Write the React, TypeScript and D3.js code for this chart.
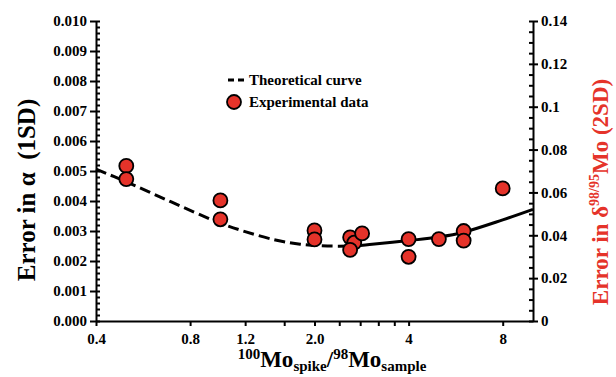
import { useRef, useEffect } from "react";
import * as d3 from "d3";

// theoretical curve
const curveX = [0.4, 0.5, 0.64, 0.82, 1.0, 1.2, 1.5, 1.8, 2.2, 2.7, 3.0, 4, 5, 6, 8, 10];
const curveY = [0.00506, 0.00464, 0.00414, 0.00364, 0.00326, 0.00298, 0.0027, 0.00256, 0.0025, 0.0025, 0.00255, 0.00268, 0.0028, 0.00296, 0.00337, 0.00372];
const dashEnd = 2.7;

// experimental data
const expX = [0.5, 0.5, 1.0, 1.0, 2.0, 2.0, 2.6, 2.68, 2.6, 2.84, 4, 4, 5, 6, 6, 8];
const expY = [0.00517, 0.00473, 0.00402, 0.00339, 0.00302, 0.00272, 0.00279, 0.00261, 0.00237, 0.00292, 0.00273, 0.00214, 0.00273, 0.003, 0.00268, 0.00442];

const xTicks = [0.4, 0.8, 1.2, 1.6, 2.0, 2.4, 2.8, 3.2, 3.6, 4, 8];
const xTickLabels = ["0.4", "0.8", "1.2", "", "2.0", "", "", "", "", "4", "8"];

const margin = { top: 21, right: 83, bottom: 56, left: 96 };
const W = 616, H = 377;
const WIDTH = W - margin.left - margin.right;
const HEIGHT = H - margin.top - margin.bottom;
const RED = "#e5332a";
const FONT = "'Liberation Serif', 'Times New Roman', serif";

export default function App() {
  const ref = useRef<SVGSVGElement>(null);

  useEffect(() => {
    const svg = d3.select(ref.current);
    const g = svg.select(".chart");

    const x = d3.scaleLog().domain([0.4, 10]).range([0, WIDTH]);
    const y = d3.scaleLinear().domain([0, 0.01]).range([HEIGHT, 0]);
    const y2 = d3.scaleLinear().domain([0, 0.14]).range([HEIGHT, 0]);

    const style = (sel: any) => {
      sel.selectAll("path").attr("stroke", "#000").attr("stroke-width", 2);
      sel.selectAll("line").attr("stroke", "#000").attr("stroke-width", 2);
      sel.selectAll("text").attr("font-family", FONT).attr("font-weight", "bold")
        .attr("font-size", 15).attr("fill", "#000");
    };

    // x-axis
    g.select(".x-axis")
      .attr("transform", `translate(0,${HEIGHT})`)
      .call(d3.axisBottom(x).tickValues(xTicks).tickSize(5).tickSizeOuter(0)
        .tickFormat((_d: any, i: number) => xTickLabels[i]) as any)
      .call(style)
      .call((s: any) => s.selectAll("text").attr("dy", "1.0em"));

    // left axis
    g.select(".y-minor")
      .call(d3.axisLeft(y).ticks(50).tickSize(-4).tickFormat(() => "") as any)
      .call(style)
      .call((s: any) => s.select(".domain").remove());
    g.select(".y-axis")
      .call(d3.axisLeft(y).ticks(10).tickSize(6).tickSizeOuter(0).tickFormat(d3.format(".3f")) as any)
      .call(style);

    // right axis
    g.select(".y2-minor")
      .attr("transform", `translate(${WIDTH},0)`)
      .call(d3.axisRight(y2).tickValues(d3.range(0, 0.1401, 0.005)).tickSize(-4).tickFormat(() => "") as any)
      .call(style)
      .call((s: any) => s.select(".domain").remove());
    g.select(".y2-axis")
      .attr("transform", `translate(${WIDTH},0)`)
      .call(d3.axisRight(y2).tickValues(d3.range(0, 0.1401, 0.02)).tickSize(5).tickSizeOuter(0)
        .tickFormat((d: any) => (d === 0 ? "0" : String(+(+d).toFixed(2)))) as any)
      .call(style);

    // theoretical curve
    const pts = curveX.map((v, i) => [v, curveY[i]] as [number, number]);
    const line = d3.line<[number, number]>()
      .x((d) => x(d[0]))
      .y((d) => y(d[1]))
      .curve(d3.curveCatmullRom);
    g.select(".curve-dash")
      .datum(pts.filter((d) => d[0] <= dashEnd))
      .attr("d", line as any)
      .attr("fill", "none").attr("stroke", "#000").attr("stroke-width", 3)
      .attr("stroke-dasharray", "11,5");
    g.select(".curve-solid")
      .datum(pts.filter((d) => d[0] >= dashEnd))
      .attr("d", line as any)
      .attr("fill", "none").attr("stroke", "#000").attr("stroke-width", 3);

    // experimental points
    g.select(".points")
      .selectAll("circle")
      .data(expX.map((v, i) => [v, expY[i]]))
      .join("circle")
      .attr("cx", (d) => x(d[0]))
      .attr("cy", (d) => y(d[1]))
      .attr("r", 7)
      .attr("fill", RED)
      .attr("stroke", "#000")
      .attr("stroke-width", 1.8);
  }, []);

  return (
    <svg ref={ref} width={W} height={H} style={{ position: "absolute", left: 0, top: 0, background: "#fff" }}>
      <g className="chart" transform={`translate(${margin.left},${margin.top})`}>
        <g className="y-minor" />
        <g className="y2-minor" />
        <g className="x-axis" />
        <g className="y-axis" />
        <g className="y2-axis" />
        <path className="curve-dash" />
        <path className="curve-solid" />
        <g className="points" />
      </g>

      {/* legend */}
      <g fontFamily={FONT} fontWeight="bold" fontSize={15}>
        <line x1={228} x2={245} y1={80} y2={80} stroke="#000" strokeWidth={3} strokeDasharray="6,4" />
        <text x={249} y={85}>Theoretical curve</text>
        <circle cx={234} cy={102} r={7} fill={RED} stroke="#000" strokeWidth={1.8} />
        <text x={249} y={107}>Experimental data</text>
      </g>

      {/* axis titles */}
      <text transform="translate(35,190) rotate(-90)" textAnchor="middle" fontFamily={FONT} fontWeight="bold" fontSize={25} style={{ whiteSpace: "pre" }}>
        {"Error in α  (1SD)"}
      </text>
      <text transform="translate(608,192) rotate(-90)" textAnchor="middle" fontFamily={FONT} fontWeight="bold" fontSize={23} fill={RED}>
        Error in δ<tspan fontSize={14} dy={-9}>98/95</tspan><tspan dy={9}>Mo (2SD)</tspan>
      </text>
      <text x={332} y={367} textAnchor="middle" fontFamily={FONT} fontWeight="bold" fontSize={23}>
        <tspan fontSize={15} dy={-8}>100</tspan><tspan dy={8}>Mo</tspan>
        <tspan fontSize={15} dy={4}>spike</tspan><tspan dy={-4}>/</tspan>
        <tspan fontSize={15} dy={-8}>98</tspan><tspan dy={8}>Mo</tspan>
        <tspan fontSize={15} dy={4}>sample</tspan>
      </text>
    </svg>
  );
}
